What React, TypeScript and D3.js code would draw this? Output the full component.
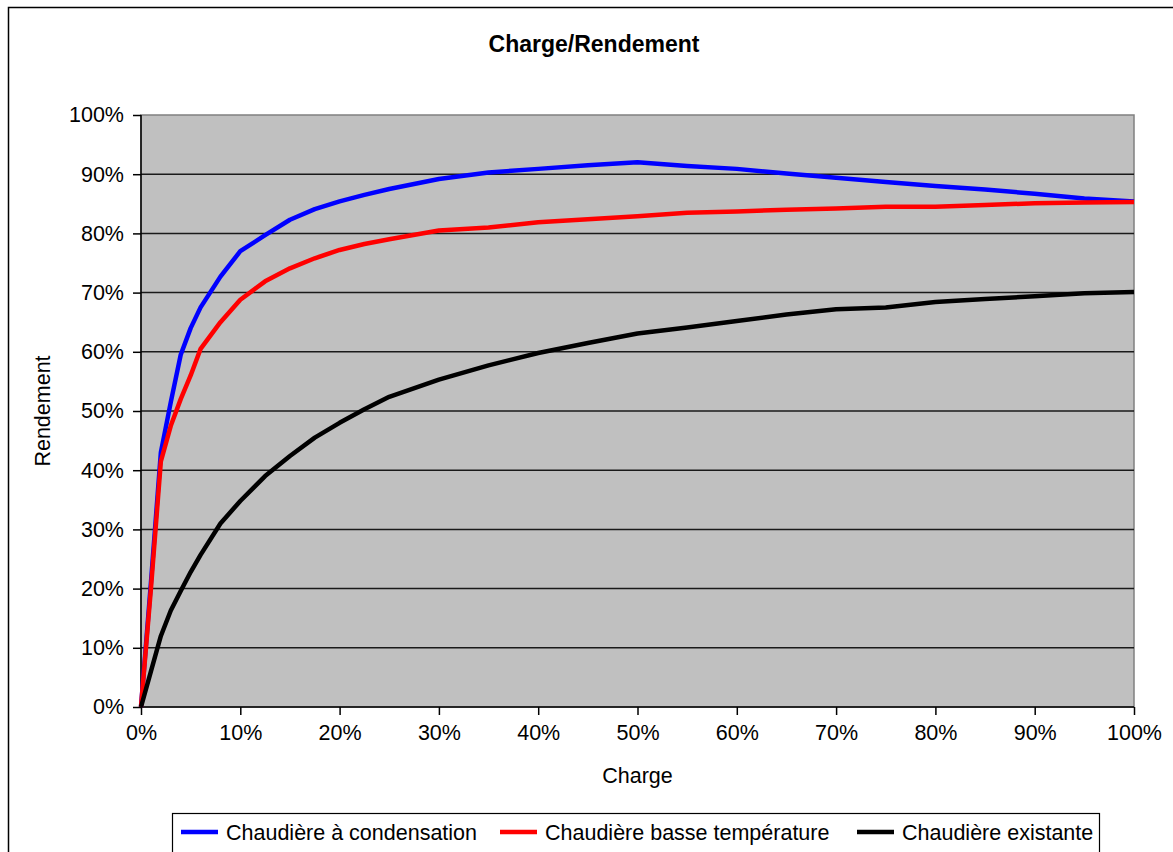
import React, { useEffect, useRef } from "react";
import * as d3 from "d3";

const charge = [0, 1, 2, 3, 4, 5, 6, 8, 10, 12.5, 15, 17.5, 20, 22.5, 25, 30, 35, 40, 45, 50, 55, 60, 65, 70, 75, 80, 85, 90, 95, 100];
const condensation = [0, 21, 43, 51.5, 59.5, 64, 67.5, 72.7, 77, 79.7, 82.3, 84.1, 85.4, 86.5, 87.5, 89.2, 90.3, 90.9, 91.5, 92.0, 91.4, 90.9, 90.1, 89.4, 88.7, 88.0, 87.4, 86.7, 85.9, 85.4];
const basseTemp = [0, 20, 41.5, 47.5, 52, 56, 60.5, 65, 68.8, 71.9, 74.1, 75.8, 77.2, 78.2, 79, 80.5, 81, 81.9, 82.4, 82.9, 83.5, 83.7, 84.0, 84.2, 84.5, 84.5, 84.8, 85.1, 85.2, 85.3];
const existante = [0, 6, 12, 16.3, 19.6, 22.8, 25.7, 31, 34.8, 39, 42.4, 45.5, 48, 50.3, 52.4, 55.3, 57.7, 59.8, 61.5, 63.1, 64.1, 65.2, 66.3, 67.2, 67.5, 68.4, 68.9, 69.4, 69.9, 70.1];
const seriesNames = ["Chaudière à condensation", "Chaudière basse température", "Chaudière existante"];
const seriesColors = ["#0000FF", "#FF0000", "#000000"];
const ticks = [0, 10, 20, 30, 40, 50, 60, 70, 80, 90, 100];

export default function App() {
  const ref = useRef<SVGSVGElement>(null);
  useEffect(() => {
    const svg = d3.select(ref.current);
    svg.selectAll("*").remove();
    const W = 1173, H = 852;
    const L = 141, R = 1134, T = 115, B = 707;
    const x = d3.scaleLinear().domain([0, 100]).range([L, R]);
    const y = d3.scaleLinear().domain([0, 100]).range([B, T]);
    const font = "'Liberation Sans', Arial, sans-serif";

    svg.append("rect").attr("x", 0).attr("y", 0).attr("width", W).attr("height", H).attr("fill", "#fff");
    svg.append("rect").attr("x", 8.5).attr("y", 7.5).attr("width", 1200).attr("height", 900)
      .attr("fill", "none").attr("stroke", "#000").attr("stroke-width", 1.5);

    svg.append("rect").attr("x", L).attr("y", T).attr("width", R - L).attr("height", B - T)
      .attr("fill", "#C0C0C0").attr("stroke", "#808080").attr("stroke-width", 1.5);

    // gridlines
    svg.append("g").selectAll("line").data(ticks.filter(t => t > 0 && t < 100)).join("line")
      .attr("x1", L).attr("x2", R).attr("y1", d => y(d)).attr("y2", d => y(d))
      .attr("stroke", "#1a1a1a").attr("stroke-width", 1.5);

    // axes
    const yAxis = svg.append("g").attr("transform", `translate(${L},0)`)
      .call(d3.axisLeft(y).tickValues(ticks).tickSize(8).tickPadding(9).tickFormat(d => `${d}%`));
    const xAxis = svg.append("g").attr("transform", `translate(0,${B})`)
      .call(d3.axisBottom(x).tickValues(ticks).tickSize(8).tickPadding(10).tickFormat(d => `${d}%`));
    [yAxis, xAxis].forEach(g => {
      g.select(".domain").attr("stroke", "#000").attr("stroke-width", 1.5);
      g.selectAll(".tick line").attr("stroke", "#000").attr("stroke-width", 1.5);
      g.selectAll(".tick text").attr("font-family", font).attr("font-size", 21.5).attr("fill", "#000");
    });
    xAxis.select(".domain").attr("d", `M${L},0H${R}`);
    yAxis.select(".domain").attr("d", `M0,${B}V${T}`);

    // lines
    const allSeries = [condensation, basseTemp, existante];
    const line = d3.line<number>().x((_, i) => x(charge[i])).y(d => y(d));
    allSeries.forEach((s, k) => {
      svg.append("path").datum(s).attr("d", line).attr("fill", "none")
        .attr("stroke", seriesColors[k]).attr("stroke-width", 4.5).attr("stroke-linejoin", "round");
    });

    // titles
    svg.append("text").attr("x", 594).attr("y", 52).attr("text-anchor", "middle")
      .attr("font-family", font).attr("font-size", 23).attr("font-weight", "bold").text("Charge/Rendement");
    svg.append("text").attr("x", (L + R) / 2).attr("y", 783).attr("text-anchor", "middle")
      .attr("font-family", font).attr("font-size", 21.5).text("Charge");
    svg.append("text").attr("transform", `translate(50,${(T + B) / 2}) rotate(-90)`).attr("text-anchor", "middle")
      .attr("font-family", font).attr("font-size", 21.5).text("Rendement");

    // legend
    svg.append("rect").attr("x", 172.5).attr("y", 813.5).attr("width", 927).attr("height", 40)
      .attr("fill", "#fff").attr("stroke", "#000").attr("stroke-width", 1.2);
    const legX = [181, 500, 857];
    seriesNames.forEach((n, k) => {
      const g = svg.append("g").attr("transform", `translate(${legX[k]},832)`);
      g.append("line").attr("x1", 0).attr("x2", 37).attr("y1", 0).attr("y2", 0)
        .attr("stroke", seriesColors[k]).attr("stroke-width", 4.5);
      g.append("text").attr("x", 45).attr("y", 0).attr("dy", "0.35em")
        .attr("font-family", font).attr("font-size", 21.5).text(n);
    });
  }, []);
  return <svg ref={ref} width={1173} height={852} style={{ position: "absolute", left: 0, top: 0 }} />;
}
